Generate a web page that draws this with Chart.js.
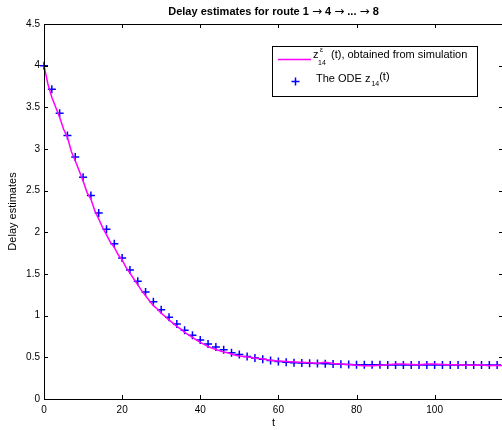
<!DOCTYPE html>
<html>
<head>
<meta charset="utf-8">
<script src="https://cdn.jsdelivr.net/npm/chart.js@4.4.0/dist/chart.umd.min.js"></script>
<style>
  html, body { margin: 0; padding: 0; background: #fff; overflow: hidden; }
  #wrap { position: relative; width: 510px; height: 430px; }
</style>
</head>
<body>
<div id="wrap"><canvas id="chart"></canvas></div>
<script>
// ODE solution z_14(t), sampled every 2 time units
const odeT = [0, 2, 4, 6, 8, 10, 12, 14, 16, 18, 20, 22, 24, 26, 28, 30, 32, 34, 36, 38,
  40, 42, 44, 46, 48, 50, 52, 54, 56, 58, 60, 62, 64, 66, 68, 70, 72, 74, 76, 78,
  80, 82, 84, 86, 88, 90, 92, 94, 96, 98, 100, 102, 104, 106, 108, 110, 112, 114, 116];
const odeZ = [4.0, 3.717, 3.429, 3.161, 2.905, 2.66, 2.441, 2.233, 2.036, 1.864, 1.693, 1.549, 1.412, 1.285, 1.168, 1.072, 0.98, 0.9, 0.824, 0.766,
  0.709, 0.661, 0.624, 0.592, 0.556, 0.533, 0.511, 0.492, 0.476, 0.462, 0.45, 0.442, 0.436, 0.432, 0.428, 0.425, 0.423, 0.42, 0.417, 0.414,
  0.412, 0.411, 0.41, 0.41, 0.409, 0.409, 0.409, 0.408, 0.408, 0.408, 0.408, 0.408, 0.407, 0.407, 0.407, 0.407, 0.407, 0.407, 0.407];

// simulated estimate z^eps_14(t)
const simT = [0, 1, 2, 3, 4, 5, 6, 7, 8, 9, 10, 11, 12, 13, 14, 15, 16, 17, 18, 19,
  20, 21, 22, 23, 24, 25, 26, 27, 28, 29, 30, 31, 32, 33, 34, 35, 36, 37, 38, 39,
  40, 41, 42, 43, 44, 45, 46, 47, 48, 49, 50, 51, 52, 53, 54, 55, 56, 57, 58, 59,
  60, 62, 64, 66, 68, 70, 71, 72, 73, 74, 76, 78, 80, 82, 84, 86, 88, 90, 92, 94,
  96, 98, 100, 102, 104, 106, 108, 110, 112, 114, 116, 117.5];
const simZ = [4.0, 3.78, 3.62, 3.5, 3.38, 3.24, 3.14, 2.97, 2.86, 2.74, 2.62, 2.48, 2.4, 2.26, 2.16, 2.06, 1.97, 1.88, 1.82, 1.73,
  1.67, 1.58, 1.51, 1.44, 1.37, 1.3, 1.24, 1.18, 1.12, 1.08, 1.03, 0.99, 0.95, 0.91, 0.87, 0.84, 0.8, 0.77, 0.74, 0.71,
  0.68, 0.655, 0.63, 0.61, 0.595, 0.58, 0.565, 0.555, 0.54, 0.525, 0.515, 0.51, 0.505, 0.5, 0.49, 0.485, 0.48, 0.47, 0.465, 0.46,
  0.455, 0.45, 0.445, 0.44, 0.435, 0.43, 0.435, 0.44, 0.435, 0.425, 0.42, 0.415, 0.405, 0.4, 0.4, 0.405, 0.41, 0.42, 0.42, 0.415,
  0.41, 0.42, 0.42, 0.415, 0.41, 0.41, 0.405, 0.405, 0.41, 0.4, 0.405, 0.4];

const xTicks = [0, 20, 40, 60, 80, 100];
const yTicks = [0, 0.5, 1, 1.5, 2, 2.5, 3, 3.5, 4, 4.5];
const titleParts = ['Delay estimates for route 1 ', '\u2192', ' 4 ', '\u2192', ' ... ', '\u2192', ' 8'];

const FONT = '"Liberation Sans", Arial, Helvetica, sans-serif';
const ARROW_FONT = '12px "DejaVu Sans", sans-serif';
const SIM_COLOR = '#ff00ff';
const ODE_COLOR = '#0000ff';

const framePlugin = {
  id: 'frame',
  afterDraw(chart) {
    const { ctx, chartArea: a, scales } = chart;
    ctx.save();
    ctx.strokeStyle = '#000';
    ctx.lineWidth = 1;
    ctx.strokeRect(a.left + 0.5, a.top + 0.5, a.right - a.left, a.bottom - a.top);
    const tl = 4;
    ctx.beginPath();
    xTicks.forEach(v => {
      const x = Math.round(scales.x.getPixelForValue(v)) + 0.5;
      ctx.moveTo(x, a.bottom); ctx.lineTo(x, a.bottom - tl);
      ctx.moveTo(x, a.top); ctx.lineTo(x, a.top + tl);
    });
    yTicks.forEach(v => {
      const y = Math.round(scales.y.getPixelForValue(v)) + 0.5;
      ctx.moveTo(a.left, y); ctx.lineTo(a.left + tl, y);
      ctx.moveTo(a.right, y); ctx.lineTo(a.right - tl, y);
    });
    ctx.stroke();

    // title, arrows in a font that has a full-size arrow glyph
    const cx = (a.left + a.right) / 2;
    const partFont = i => (titleParts[i] === '\u2192' ? ARROW_FONT : 'bold 11px ' + FONT);
    let total = 0;
    const widths = titleParts.map((p, i) => {
      ctx.font = partFont(i);
      const w = ctx.measureText(p).width;
      total += w;
      return w;
    });
    ctx.fillStyle = '#000';
    ctx.textAlign = 'left';
    ctx.textBaseline = 'middle';
    let tx = cx - total / 2;
    titleParts.forEach((p, i) => {
      ctx.font = partFont(i);
      ctx.fillText(p, tx, 12);
      tx += widths[i];
    });

    // axis titles
    ctx.textAlign = 'center';
    ctx.font = '11px ' + FONT;
    ctx.fillText('t', cx, 423);
    ctx.save();
    ctx.translate(13, (a.top + a.bottom) / 2);
    ctx.rotate(-Math.PI / 2);
    ctx.fillText('Delay estimates', 0, 0);
    ctx.restore();

    // legend
    const bx = 272, by = 46, bw = 205, bh = 50;
    ctx.fillStyle = '#fff';
    ctx.fillRect(bx, by, bw, bh);
    ctx.strokeRect(bx + 0.5, by + 0.5, bw, bh);
    ctx.lineWidth = 1.5;
    ctx.strokeStyle = SIM_COLOR;
    ctx.beginPath();
    ctx.moveTo(278, 59.5); ctx.lineTo(311, 59.5);
    ctx.stroke();
    ctx.strokeStyle = ODE_COLOR;
    ctx.beginPath();
    ctx.moveTo(291.5, 81.5); ctx.lineTo(299.5, 81.5);
    ctx.moveTo(295.5, 77.5); ctx.lineTo(295.5, 85.5);
    ctx.stroke();

    ctx.fillStyle = '#000';
    ctx.textAlign = 'left';
    ctx.textBaseline = 'alphabetic';
    ctx.font = '11px ' + FONT;
    ctx.fillText('z', 313, 58);
    ctx.font = '7px ' + FONT;
    ctx.fillText('\u03b5', 320, 52);
    ctx.fillText('14', 318, 65);
    ctx.font = '11px ' + FONT;
    ctx.fillText('(t), obtained from simulation', 331, 58);

    ctx.fillText('The ODE z', 316, 82);
    const w = ctx.measureText('The ODE z').width;
    ctx.font = '7px ' + FONT;
    ctx.fillText('14', 316 + w + 1, 86);
    const w2 = ctx.measureText('14').width;
    ctx.font = '11px ' + FONT;
    ctx.fillText('(t)', 316 + w + w2 + 1, 80);
    ctx.restore();
  }
};

const simPoints = simT.map((t, i) => ({ x: t, y: simZ[i] }));
const odePoints = odeT.map((t, i) => ({ x: t, y: odeZ[i] }));

new Chart(document.getElementById('chart'), {
  type: 'scatter',
  data: {
    datasets: [
      {
        label: 'simulation',
        data: simPoints,
        showLine: true,
        borderColor: SIM_COLOR,
        borderWidth: 1.5,
        pointRadius: 0,
        tension: 0
      },
      {
        label: 'ODE',
        data: odePoints,
        showLine: false,
        clip: false,
        pointStyle: 'cross',
        pointRadius: 4,
        borderColor: ODE_COLOR,
        pointBorderColor: ODE_COLOR,
        pointBorderWidth: 1.5
      }
    ]
  },
  options: {
    responsive: true,
    maintainAspectRatio: false,
    animation: false,
    layout: { padding: { top: 24, right: 7, left: 0, bottom: 0 } },
    plugins: { legend: { display: false }, tooltip: { enabled: false }, title: { display: false } },
    scales: {
      x: {
        type: 'linear',
        min: 0,
        max: 117.5,
        grid: { display: false, drawTicks: false },
        border: { display: false },
        afterBuildTicks: s => { s.ticks = xTicks.map(v => ({ value: v })); },
        afterFit: s => { s.height = 31; },
        ticks: { color: '#000', font: { size: 10, family: FONT }, padding: 5, maxRotation: 0 }
      },
      y: {
        type: 'linear',
        min: 0,
        max: 4.5,
        grid: { display: false, drawTicks: false },
        border: { display: false },
        afterBuildTicks: s => { s.ticks = yTicks.map(v => ({ value: v })); },
        afterFit: s => { s.width = 44; },
        ticks: { color: '#000', font: { size: 10, family: FONT }, padding: 4, callback: v => String(v) }
      }
    }
  },
  plugins: [framePlugin]
});
</script>
</body>
</html>
